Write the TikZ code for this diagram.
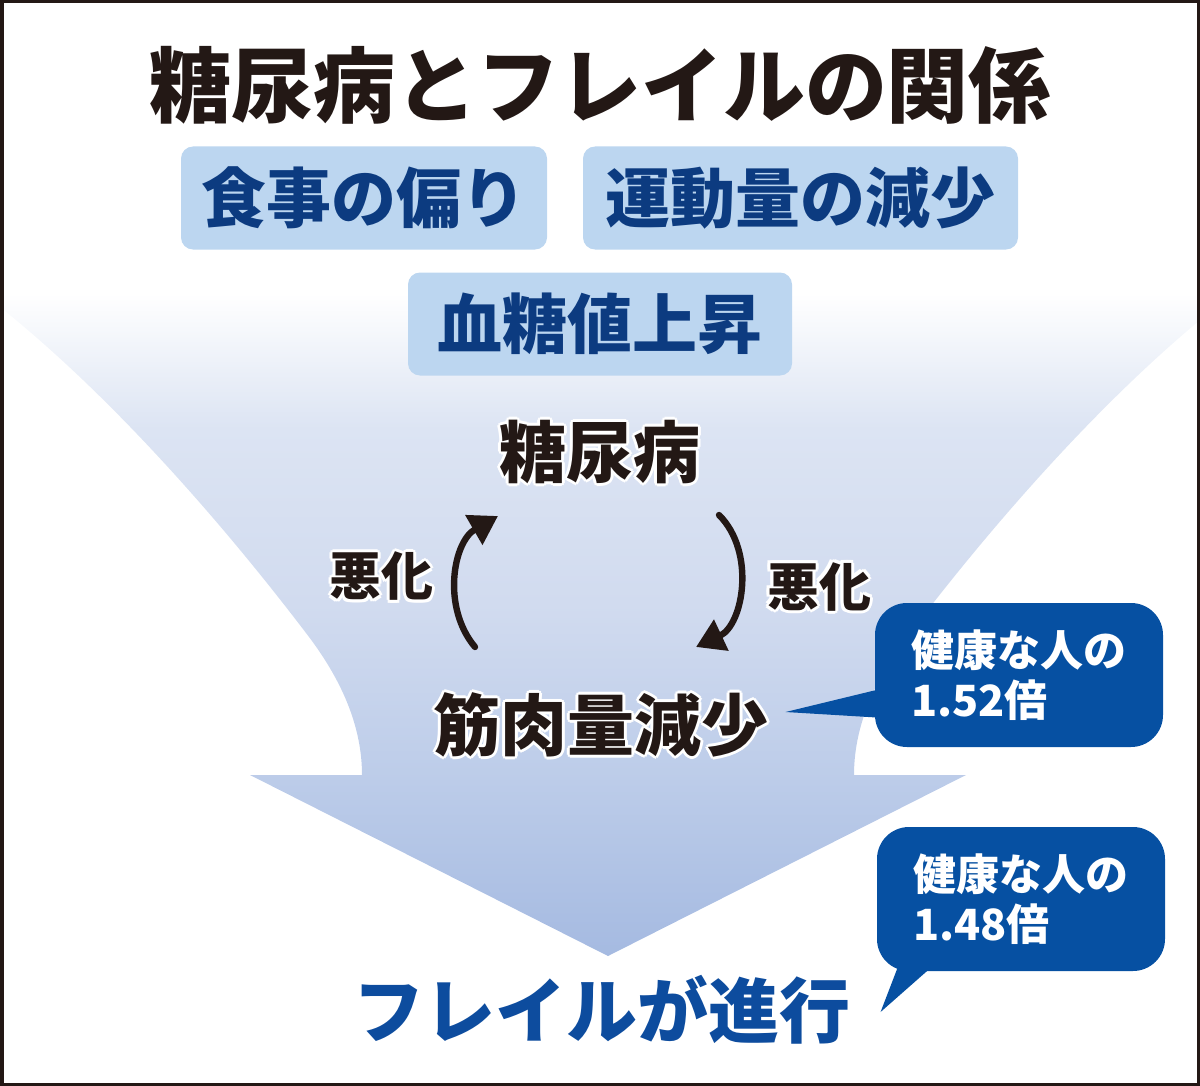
\documentclass[tikz,border=0pt]{standalone}
\usepackage{fontspec}
\setmainfont{Noto Sans CJK JP}
\newfontfamily\jpHeavy{Noto Sans CJK JP Black}
\usetikzlibrary{arrows.meta,positioning,calc}
\definecolor{frameDark}{HTML}{231815}
\definecolor{boxBlue}{HTML}{BCD6F0}
\definecolor{boxText}{HTML}{0C3B80}
\definecolor{callBlue}{HTML}{0650A2}
\definecolor{frailBlue}{HTML}{0D4C9E}
\definecolor{funA}{HTML}{A5BAE1}
\definecolor{funB}{HTML}{BCCCE9}
\definecolor{funC}{HTML}{D1DBEF}
\definecolor{funD}{HTML}{DCE4F3}
\pgfdeclareverticalshading{funnelFade}{100bp}{color(0bp)=(funA); color(25bp)=(funA); color(38bp)=(funB); color(51bp)=(funC); color(64bp)=(funD); color(74bp)=(white); color(100bp)=(white)}
% white outline round dark text
\newcommand{\haloText}[1]{\leavevmode
  \rlap{\color{white}\kern1.5pt#1}\rlap{\color{white}\kern-1.5pt#1}%
  \rlap{\color{white}\raisebox{1.5pt}{#1}}\rlap{\color{white}\raisebox{-1.5pt}{#1}}%
  \rlap{\color{white}\kern1.1pt\raisebox{1.1pt}{#1}}\rlap{\color{white}\kern-1.1pt\raisebox{1.1pt}{#1}}%
  \rlap{\color{white}\kern1.1pt\raisebox{-1.1pt}{#1}}\rlap{\color{white}\kern-1.1pt\raisebox{-1.1pt}{#1}}%
  #1}

\begin{document}
\begin{tikzpicture}[
x=0.5pt, y=-0.5pt,
titleTxt/.style={font=\jpHeavy\fontsize{41}{45}\selectfont, text=frameDark},
causeBox/.style={fill=boxBlue, rounded corners=6pt, minimum height=51.5pt, font=\bfseries\fontsize{32.5}{36}\selectfont, text=boxText},
cycTxt/.style={font=\jpHeavy\fontsize{33.5}{37}\selectfont, text=frameDark},
worseTxt/.style={font=\bfseries\fontsize{26}{29}\selectfont, text=frameDark},
callBox/.style={fill=callBlue, rounded corners=16pt, minimum width=144pt, minimum height=72pt, inner xsep=18pt, align=left, text width=108pt, font=\bfseries\fontsize{21.5}{25}\selectfont, text=white},
frailTxt/.style={font=\bfseries\fontsize{35.5}{39}\selectfont, text=frailBlue},
worsen/.style={-{Triangle[length=14pt,width=16.5pt]}, line width=3.2pt, line cap=round, draw=frameDark}
]
\useasboundingbox (0,0) rectangle (1200,1086);

% funnel arrow in the background
\shade[shading=funnelFade] (0,280) -- (0,307) .. controls (110,395) and (220,520) .. (306,633) .. controls (336,672) and (362,720) .. (362,775) -- (250,775) -- (608,956) -- (966,775) -- (854,775) .. controls (854,720) and (880,672) .. (910,633) .. controls (996,520) and (1106,395) .. (1216,307) -- (1216,280) -- cycle;

% title and causes
\node[titleTxt] (title) at (600,85) {糖尿病とフレイルの関係};
\node[causeBox, minimum width=183pt] (diet) at (364,198) {食事の偏り};
\node[causeBox, minimum width=217.5pt] (exer) at (800.5,198) {運動量の減少};
\node[causeBox, minimum width=192pt] (sugar) at (600,324) {血糖値上昇};

% vicious circle
\node[cycTxt] (dm) at (600,452) {\haloText{糖尿病}};
\node[cycTxt] (mm) at (601,725) {\haloText{筋肉量減少}};
\draw[worsen] ([shift={(-126,-78)}]mm.center) to[bend left=50] node[worseTxt, midway, left=7pt] (wL) {\haloText{悪化}} ([shift={(-102,64)}]dm.center);
\draw[worsen] ([shift={(119,63)}]dm.center) to[bend left=55] node[worseTxt, midway, right=9pt] (wR) {\haloText{悪化}} ([shift={(95,-78)}]mm.center);

% result
\node[frailTxt] (frail) at (602,1010) {フレイルが進行};

% callouts
\node[callBox] (c1) at (1019,675) {健康な人の\\1.52倍};
\fill[callBlue] ([shift={(10,-13)}]mm.east) -- ([shift={(10,13)}]c1.west) -- ([shift={(10,43)}]c1.west) -- cycle;
\node[callBox] (c2) at (1021,899) {健康な人の\\1.48倍};
\fill[callBlue] ([shift={(23,2)}]frail.east) -- ([shift={(-121,-10)}]c2.south) -- ([shift={(-83,-10)}]c2.south) -- cycle;

% frame
\draw[frameDark, line width=1.75pt] (1.75,1.75) rectangle (1198.25,1084.25);
\end{tikzpicture}
\end{document}
